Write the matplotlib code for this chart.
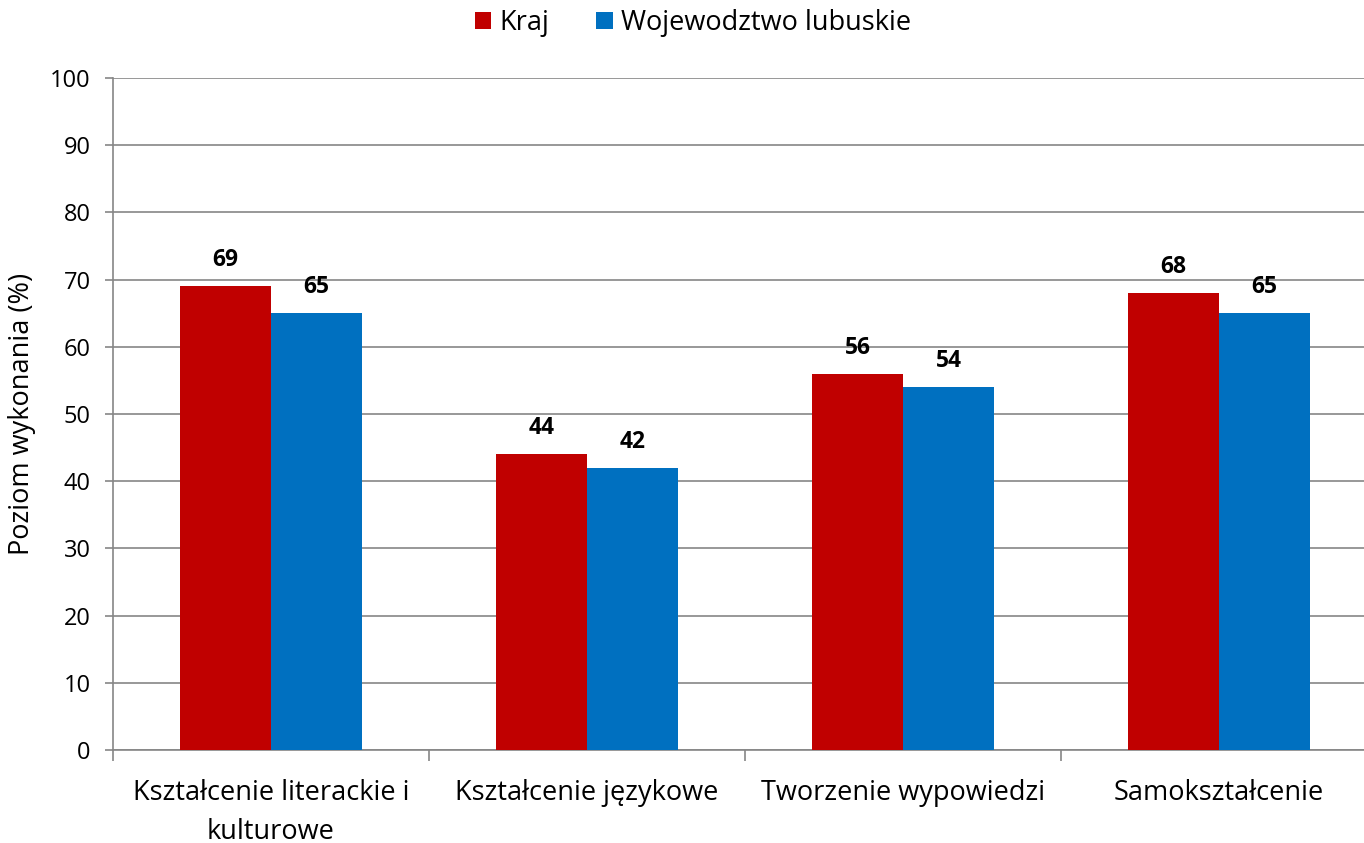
import numpy as np
import matplotlib
matplotlib.use("Agg")
import matplotlib.pyplot as plt

# data
categories = ["Kształcenie literackie i\nkulturowe", "Kształcenie językowe",
              "Tworzenie wypowiedzi", "Samokształcenie"]
kraj = [69, 44, 56, 68]
lubuskie = [65, 42, 54, 65]
series_names = ["Kraj", "Wojewodztwo lubuskie"]
colors = ["#C00000", "#0070C0"]
y_ticks = list(range(0, 101, 10))

plt.rcParams["font.family"] = ["Open Sans", "DejaVu Sans"]

fig = plt.figure(figsize=(13.64, 8.43), dpi=100)
# plot area runs a little past the right edge of the picture, as in the reference
ax = fig.add_axes([0.0828, 0.1103, 0.9267, 0.7972])

x = np.arange(len(categories))
w = 0.288
bars1 = ax.bar(x - w / 2, kraj, w, color=colors[0], label=series_names[0], zorder=3)
bars2 = ax.bar(x + w / 2, lubuskie, w, color=colors[1], label=series_names[1], zorder=3)

for bars in (bars1, bars2):
    for b in bars:
        ax.annotate(f"{b.get_height():.0f}", (b.get_x() + b.get_width() / 2, b.get_height()),
                    xytext=(0, 10), textcoords="offset points", ha="center", va="bottom",
                    fontsize=16.5, fontweight="bold")

ax.set_xlim(-0.5, len(categories) - 0.5)
ax.set_ylim(0, 100)
ax.set_yticks(y_ticks)
ax.tick_params(axis="y", labelsize=17, length=6, color="#868686", width=1.2, pad=10)
ax.yaxis.grid(True, color="#868686", linewidth=1.2, zorder=0)
ax.set_ylabel("Poziom wykonania (%)", fontsize=19.5, labelpad=10)

ax.set_xticks(np.arange(-0.5, len(categories), 1.0))
ax.set_xticklabels([])
ax.set_xticks(x, minor=True)
ax.set_xticklabels(categories, minor=True, fontsize=19.5, linespacing=1.5)
ax.tick_params(axis="x", which="major", length=8, color="#868686", width=1.2)
ax.tick_params(axis="x", which="minor", length=0, pad=21)

for s in ["top", "right"]:
    ax.spines[s].set_visible(False)
for s in ["left", "bottom"]:
    ax.spines[s].set_color("#868686")
    ax.spines[s].set_linewidth(1.2)

fig.legend(loc="upper center", bbox_to_anchor=(0.508, 1.018), ncol=2, frameon=False,
           fontsize=19.5, handlelength=0.6, handleheight=0.6, handletextpad=0.3,
           columnspacing=1.75)

fig.savefig("out.png", dpi=100)
